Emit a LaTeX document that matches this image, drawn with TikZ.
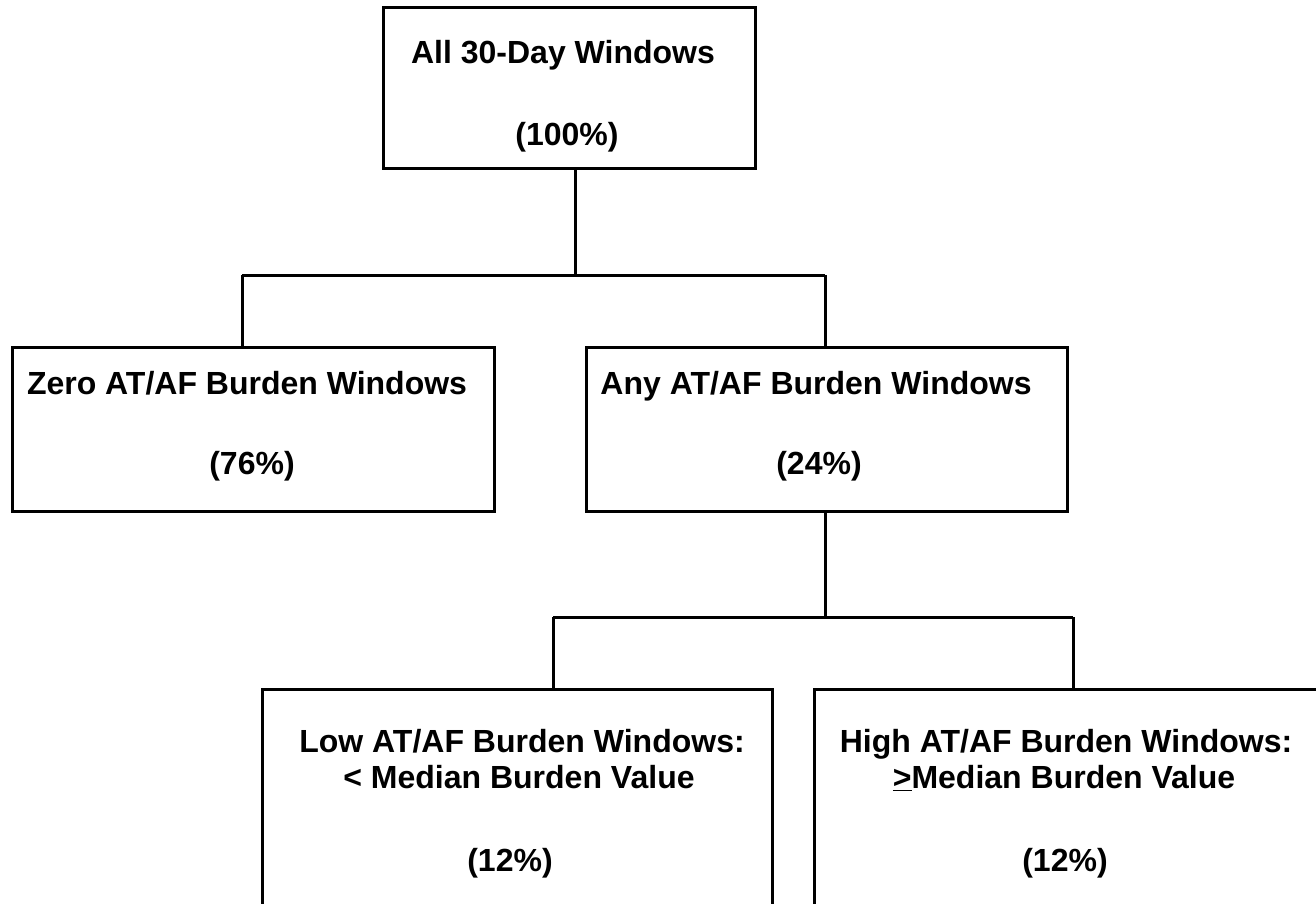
\documentclass[tikz,border=0pt]{standalone}
\usepackage{fontspec}
\setmainfont{Liberation Sans}
\begin{document}
\begin{tikzpicture}[x=0.5pt,y=-0.5pt,
  box/.style={draw, line width=1.5pt, rectangle, inner sep=0pt},
  lbl/.style={font=\bfseries\fontsize{16}{19}\selectfont, inner sep=0pt, text height=11.5pt, text depth=0.5pt, anchor=center},
  wire/.style={line width=1.5pt}]
\useasboundingbox (0,0) rectangle (1316,904);
\clip (0,0) rectangle (1316,904);
\fill[white] (0,0) rectangle (1316,904);
% boxes
\node[box, minimum width=186pt, minimum height=80pt] (top) at (569,88) {};
\node[box, minimum width=241pt, minimum height=82pt] (zero) at (253,429) {};
\node[box, minimum width=240.5pt, minimum height=82pt] (any) at (826.5,429) {};
\node[box, minimum width=255pt, minimum height=135.5pt] (low) at (517,824.5) {};
\node[box, minimum width=283pt, minimum height=135.5pt] (high) at (1097,824.5) {};
% texts
\node[lbl] (t1) at (563,53) {All 30-Day Windows};
\node[lbl] (t1p) at (567,135) {(100\%)};
\node[lbl] (z1) at (247,383) {Zero AT/AF Burden Windows};
\node[lbl] (z1p) at (252,463) {(76\%)};
\node[lbl] (a1) at (816,383) {Any AT/AF Burden Windows};
\node[lbl] (a1p) at (819,463) {(24\%)};
\node[lbl] (l1) at (522,741) {Low AT/AF Burden Windows:};
\node[lbl] (l2) at (519,777) {< Median Burden Value};
\node[lbl] (l1p) at (510,860) {(12\%)};
\node[lbl] (h1) at (1066,741) {High AT/AF Burden Windows:};
\node[lbl] (h2) at (1064,777) {\underline{>}Median Burden Value};
\node[lbl] (h1p) at (1065,860) {(12\%)};
% connectors
\coordinate (j1) at (575,275);
\coordinate (jl) at (242,275);
\coordinate (jr) at (825,275);
\draw[wire] (top.south -| j1) -- (j1);
\draw[wire] (jl) -- (jr);
\draw[wire] (jl) -- (jl |- zero.north);
\draw[wire] (jr) -- (jr |- any.north);
\coordinate (j2) at (825,617);
\coordinate (j2l) at (553,617);
\coordinate (j2r) at (1073,617);
\draw[wire] (any.south -| j2) -- (j2);
\draw[wire] (j2l) -- (j2r);
\draw[wire] (j2l) -- (j2l |- low.north);
\draw[wire] (j2r) -- (j2r |- high.north);
\end{tikzpicture}
\end{document}
